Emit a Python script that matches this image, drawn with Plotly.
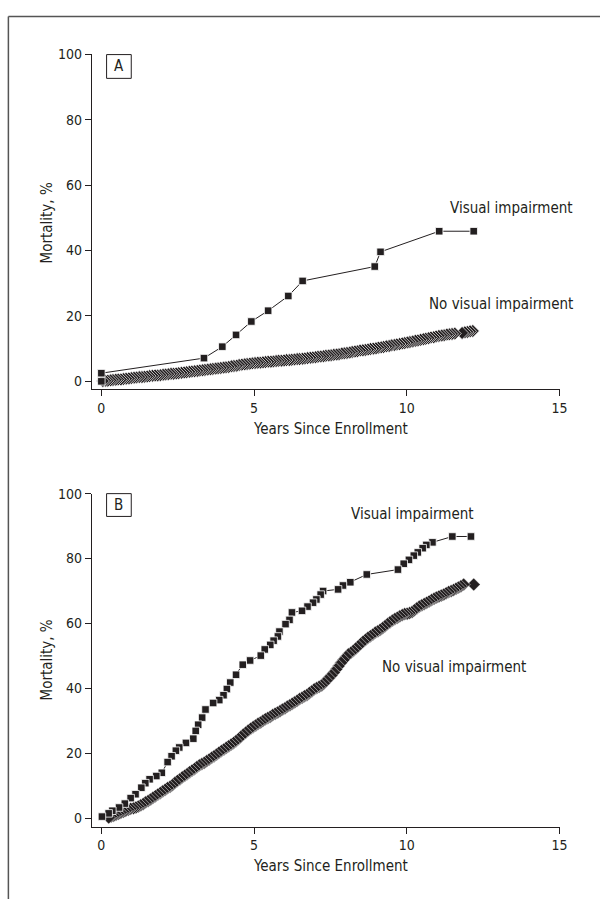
import plotly.graph_objects as go

# ---------------- Data ----------------
# Panel A - Visual impairment (squares)
a_vi_x = [0, 0, 3.36, 3.96, 4.41, 4.91, 5.46, 6.12, 6.59, 8.95, 9.14, 11.06, 12.19]
a_vi_y = [0, 2.5, 7.1, 10.6, 14.2, 18.3, 21.6, 26.1, 30.7, 35.1, 39.6, 45.9, 45.9]

# Panel A - No visual impairment (diamonds)
a_nvi_x = [0.05, 0.13, 0.21, 0.3, 0.38, 0.47, 0.55, 0.64, 0.72, 0.81, 0.9, 0.98,
           1.07, 1.15, 1.24, 1.33, 1.41, 1.5, 1.58, 1.67, 1.76, 1.84, 1.93,
           2.02, 2.1, 2.19, 2.28, 2.36, 2.45, 2.53, 2.62, 2.71, 2.79, 2.88, 2.96,
           3.05, 3.14, 3.22, 3.31, 3.39, 3.48, 3.57, 3.65, 3.74, 3.82, 3.91,
           4.0, 4.08, 4.17, 4.26, 4.34, 4.43, 4.51, 4.6, 4.69, 4.77, 4.86, 4.94,
           5.03, 5.12, 5.2, 5.29, 5.37, 5.46, 5.55, 5.63, 5.72, 5.8, 5.89, 5.98,
           6.06, 6.15, 6.23, 6.32, 6.41, 6.49, 6.58, 6.66, 6.75, 6.84, 6.92,
           7.01, 7.09, 7.18, 7.27, 7.35, 7.44, 7.52, 7.61, 7.7, 7.78, 7.87, 7.95,
           8.04, 8.13, 8.21, 8.3, 8.38, 8.47, 8.56, 8.64, 8.73, 8.81, 8.9, 8.99,
           9.07, 9.16, 9.24, 9.33, 9.42, 9.5, 9.59, 9.67, 9.76, 9.85, 9.93,
           10.02, 10.1, 10.19, 10.28, 10.36, 10.45, 10.54, 10.62, 10.71, 10.79, 10.88, 10.96,
           11.05, 11.14, 11.22, 11.31, 11.39, 11.48, 11.57, 11.81, 11.9, 11.98, 12.07, 12.16]
a_nvi_y = [0.1, 0.2, 0.2, 0.3, 0.4, 0.5, 0.6, 0.6, 0.7, 0.8, 0.9, 1.0,
           1.1, 1.2, 1.3, 1.3, 1.4, 1.5, 1.6, 1.7, 1.8, 1.8, 1.9,
           2.0, 2.1, 2.2, 2.3, 2.3, 2.4, 2.5, 2.6, 2.7, 2.8, 2.9, 3.0,
           3.1, 3.2, 3.3, 3.4, 3.5, 3.6, 3.7, 3.8, 3.9, 4.0, 4.1,
           4.2, 4.3, 4.4, 4.6, 4.7, 4.8, 5.0, 5.1, 5.2, 5.3, 5.4, 5.5,
           5.6, 5.7, 5.7, 5.8, 5.9, 6.0, 6.0, 6.1, 6.2, 6.3, 6.3, 6.4,
           6.5, 6.5, 6.6, 6.7, 6.8, 6.8, 6.9, 7.0, 7.1, 7.2, 7.3,
           7.4, 7.5, 7.6, 7.7, 7.8, 7.9, 8.0, 8.1, 8.2, 8.3, 8.5, 8.6,
           8.7, 8.8, 9.0, 9.1, 9.2, 9.4, 9.5, 9.6, 9.7, 9.9, 10.0, 10.1,
           10.3, 10.4, 10.5, 10.7, 10.8, 11.0, 11.1, 11.3, 11.4, 11.6, 11.7,
           11.9, 12.0, 12.2, 12.4, 12.5, 12.7, 12.9, 13.0, 13.2, 13.4, 13.5, 13.7,
           13.9, 14.0, 14.1, 14.3, 14.4, 14.5, 14.6, 14.8, 15.0, 15.1, 15.3, 15.4]

# Panel B - Visual impairment (squares)
b_vi_x = [0.02, 0.24, 0.36, 0.58, 0.77, 0.96, 1.12, 1.31, 1.44, 1.58, 1.80, 1.98,
          2.17, 2.30, 2.44, 2.55, 2.77, 3.01, 3.09, 3.17, 3.30, 3.41, 3.66, 3.86,
          4.00, 4.11, 4.22, 4.41, 4.63, 4.87, 5.22, 5.35, 5.53, 5.64, 5.78, 5.83,
          6.03, 6.16, 6.24, 6.57, 6.75, 6.93, 7.04, 7.18, 7.26, 7.75, 7.91, 8.15,
          8.69, 9.71, 9.90, 10.07, 10.23, 10.36, 10.52, 10.64, 10.84, 11.49, 12.10]
b_vi_y = [0.5, 1.5, 2.3, 3.3, 4.5, 6.2, 7.4, 9.4, 10.8, 12.0, 13.0, 14.0,
          17.3, 19.1, 20.8, 21.8, 23.2, 24.5, 26.9, 28.8, 31.0, 33.5, 35.5, 36.4,
          37.9, 39.8, 41.8, 44.2, 47.3, 48.6, 50.1, 52.0, 53.4, 54.7, 56.0, 57.5,
          59.8, 61.1, 63.4, 63.9, 65.2, 66.4, 67.4, 68.9, 70.0, 70.5, 71.7, 72.7,
          75.1, 76.6, 78.4, 79.6, 80.9, 81.9, 83.2, 84.2, 85.0, 86.8, 86.8]

# Panel B - No visual impairment (diamonds)
b_nvi_x = [0.24, 0.32, 0.4, 0.48, 0.56, 0.64, 0.72, 0.8, 0.88, 0.96,
           1.05, 1.13, 1.21, 1.29, 1.37, 1.45, 1.53, 1.61, 1.69, 1.77, 1.85, 1.93,
           2.01, 2.09, 2.17, 2.25, 2.33, 2.41, 2.49, 2.57, 2.65, 2.73, 2.81, 2.89, 2.97,
           3.05, 3.13, 3.21, 3.29, 3.37, 3.45, 3.53, 3.61, 3.69, 3.77, 3.85, 3.93,
           4.01, 4.09, 4.17, 4.25, 4.33, 4.41, 4.49, 4.57, 4.65, 4.73, 4.81, 4.89, 4.97,
           5.05, 5.13, 5.21, 5.29, 5.37, 5.45, 5.53, 5.61, 5.69, 5.77, 5.85, 5.93,
           6.01, 6.09, 6.17, 6.25, 6.33, 6.41, 6.49, 6.57, 6.65, 6.73, 6.81, 6.89, 6.97,
           7.05, 7.13, 7.21, 7.29, 7.37, 7.45, 7.53, 7.61, 7.69, 7.77, 7.85, 7.93,
           8.01, 8.09, 8.17, 8.25, 8.33, 8.41, 8.49, 8.57, 8.65, 8.73, 8.81, 8.89, 8.97,
           9.05, 9.13, 9.21, 9.29, 9.37, 9.45, 9.53, 9.61, 9.69, 9.77, 9.85, 9.93,
           10.01, 10.09, 10.17, 10.25, 10.33, 10.41, 10.49, 10.57, 10.65, 10.73, 10.81, 10.89, 10.97,
           11.05, 11.13, 11.21, 11.29, 11.37, 11.45, 11.53, 11.61, 11.69, 11.77, 11.86, 12.19]
b_nvi_y = [0.2, 0.5, 0.8, 1.1, 1.4, 1.7, 2.0, 2.3, 2.6, 2.9,
           3.1, 3.3, 3.6, 4.0, 4.4, 4.9, 5.3, 5.8, 6.3, 6.8, 7.3, 7.8,
           8.3, 8.8, 9.3, 9.7, 10.2, 10.9, 11.5, 12.0, 12.6, 13.1, 13.6, 14.2, 14.7,
           15.2, 15.8, 16.3, 16.7, 17.1, 17.6, 18.1, 18.6, 19.1, 19.6, 20.2, 20.7,
           21.2, 21.7, 22.2, 22.7, 23.2, 23.8, 24.4, 25.1, 25.8, 26.4, 27.0, 27.6, 28.1,
           28.6, 29.1, 29.5, 30.0, 30.5, 30.9, 31.3, 31.8, 32.2, 32.6, 33.0, 33.5,
           33.9, 34.4, 34.8, 35.3, 35.7, 36.2, 36.7, 37.1, 37.6, 38.0, 38.6, 39.1, 39.7,
           40.1, 40.5, 40.9, 41.6, 42.4, 43.2, 44.0, 44.9, 45.9, 46.9, 47.9, 48.8,
           49.7, 50.5, 51.0, 51.6, 52.3, 53.0, 53.7, 54.4, 55.0, 55.6, 56.1, 56.6, 57.2,
           57.6, 58.1, 58.6, 59.2, 59.8, 60.4, 60.9, 61.4, 61.8, 62.2, 62.6, 62.9,
           63.0, 63.2, 63.5, 64.1, 64.7, 65.2, 65.6, 66.0, 66.4, 66.8, 67.2, 67.6, 68.0,
           68.3, 68.6, 68.9, 69.3, 69.7, 70.0, 70.3, 70.7, 71.1, 71.5, 72.0, 72.0]

x_ticks = [0, 5, 10, 15]
y_ticks = [0, 20, 40, 60, 80, 100]
x_title = "Years Since Enrollment"
y_title = "Mortality, %"
label_vi = "Visual impairment"
label_nvi = "No visual impairment"

# ---------------- Style ----------------
W, H = 608, 899
FONT = "Liberation Sans Narrow, DejaVu Sans Condensed, Roboto Condensed, Arial Narrow, Liberation Sans, sans-serif"
INK = "#231f20"


def px(x):
    return x / W


def py(y):
    return 1 - y / H


def rev(a):
    return list(a)[::-1]


fig = go.Figure()


def add_panel(xa, ya, vi_x, vi_y, nvi_x, nvi_y, dline):
    fig.add_trace(go.Scatter(
        x=rev(nvi_x), y=rev(nvi_y), mode="markers", xaxis=xa, yaxis=ya,
        marker=dict(symbol="diamond", size=10, color=INK, line=dict(color="white", width=dline)),
        cliponaxis=False, showlegend=False, hoverinfo="skip"))
    fig.add_trace(go.Scatter(
        x=rev(vi_x), y=rev(vi_y), mode="lines+markers", xaxis=xa, yaxis=ya,
        line=dict(color=INK, width=1),
        marker=dict(symbol="square", size=7.5, color=INK, line=dict(color="white", width=0.8)),
        cliponaxis=False, showlegend=False, hoverinfo="skip"))


add_panel("x", "y", a_vi_x, a_vi_y, a_nvi_x, a_nvi_y, 0.7)
add_panel("x2", "y2", b_vi_x, b_vi_y, b_nvi_x, b_nvi_y, 0.5)

axis_common = dict(showgrid=False, zeroline=False, showline=True, linecolor=INK, linewidth=1,
                   ticks="outside", ticklen=6, tickwidth=1, tickcolor=INK,
                   tickfont=dict(family=FONT, size=14, color=INK), fixedrange=True)

xdom = [px(93), px(567)]
fig.update_layout(
    width=W, height=H, margin=dict(l=0, r=0, t=0, b=0),
    paper_bgcolor="white", plot_bgcolor="white",
    xaxis=dict(domain=xdom, range=[-0.313, 15.0], tickvals=x_ticks, anchor="y", **axis_common),
    yaxis=dict(domain=[py(384.5), py(46.7)], range=[-2.364, 100], tickvals=y_ticks, anchor="x", **axis_common),
    xaxis2=dict(domain=xdom, range=[-0.313, 15.0], tickvals=x_ticks, anchor="y2", **axis_common),
    yaxis2=dict(domain=[py(826), py(490)], range=[-2.595, 100], tickvals=y_ticks, anchor="x2", **axis_common),
)

tfont = dict(family=FONT, size=15, color=INK)
ann = []
# axis titles
for yc in (425, 865.5):
    ann.append(dict(x=px(335), y=py(yc), xref="paper", yref="paper", text=x_title,
                    showarrow=False, font=tfont, xanchor="center", yanchor="middle"))
for yc in (217, 658):
    ann.append(dict(x=px(48), y=py(yc), xref="paper", yref="paper", text=y_title, textangle=-90,
                    showarrow=False, font=tfont, xanchor="center", yanchor="middle"))
# series labels
ann.append(dict(x=px(583), y=py(201.7), xref="paper", yref="paper", text=label_vi, showarrow=False,
                font=tfont, xanchor="right", yanchor="middle"))
ann.append(dict(x=px(583), y=py(298.3), xref="paper", yref="paper", text=label_nvi, showarrow=False,
                font=tfont, xanchor="right", yanchor="middle"))
ann.append(dict(x=px(482), y=py(510.7), xref="paper", yref="paper", text=label_vi, showarrow=False,
                font=tfont, xanchor="right", yanchor="middle"))
ann.append(dict(x=px(385), y=py(665), xref="paper", yref="paper", text=label_nvi, showarrow=False,
                font=tfont, xanchor="left", yanchor="middle"))
# panel letters
for letter, yc in (("A", 59), ("B", 501.5)):
    ann.append(dict(x=px(120.5), y=py(yc), xref="paper", yref="paper", text=letter, showarrow=False,
                    font=tfont, xanchor="center", yanchor="middle"))

shapes = []
for y0, y1 in ((47, 71), (490, 513)):
    shapes.append(dict(type="rect", xref="paper", yref="paper", x0=px(108), x1=px(133),
                       y0=py(y1), y1=py(y0), line=dict(color=INK, width=1)))
# outer frame (left and top edges)
shapes.append(dict(type="line", xref="paper", yref="paper", x0=px(8.5), x1=px(8.5), y0=py(8.5), y1=0,
                   line=dict(color="#555555", width=1.5)))
shapes.append(dict(type="line", xref="paper", yref="paper", x0=px(8.5), x1=1, y0=py(8.5), y1=py(8.5),
                   line=dict(color="#555555", width=1.5)))

fig.update_layout(annotations=ann, shapes=shapes)
post = ("document.documentElement.style.margin='0';document.body.style.margin='0';"
        "document.documentElement.style.overflow='hidden';document.body.style.overflow='hidden';"
        "var d=document.getElementById('{plot_id}');d.style.position='fixed';d.style.top='0';d.style.left='0';")
fig.write_html("out.html", config={"displayModeBar": False}, post_script=post)
